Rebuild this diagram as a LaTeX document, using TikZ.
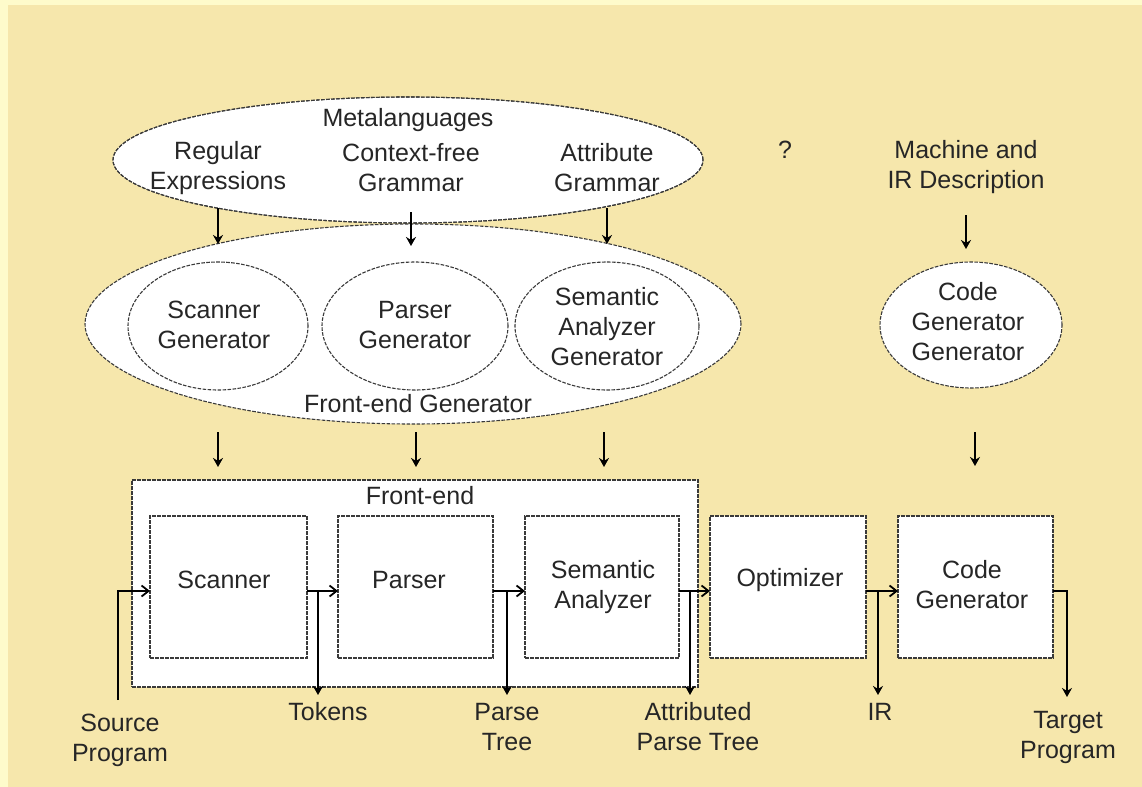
\documentclass[tikz,border=0pt]{standalone}
\usepackage{fontspec}
\setmainfont{Liberation Sans}
\usetikzlibrary{arrows.meta,shapes.geometric}
\definecolor{bgpale}{HTML}{FEFBCB}
\definecolor{bgfill}{HTML}{F6E7AC}
\definecolor{edgecol}{HTML}{3A3A3A}
\begin{document}
\begin{tikzpicture}[x=0.5pt,y=-0.5pt,
  shapeline/.style={draw=edgecol, line width=0.55pt, dash pattern=on 1.8pt off 0.7pt, fill=white, inner sep=0pt, outer sep=0pt},
  ell/.style={shapeline, ellipse},
  box/.style={shapeline, rectangle},
  txt/.style={align=center, inner sep=0pt, font=\fontsize{12.5}{15}\selectfont, text=black!85},
  flow/.style={draw=black, line width=1.1pt, -{Straight Barb[length=3.5pt,width=5.5pt,line width=0.9pt]}},
  downarr/.style={draw=black, line width=0.9pt, -{Stealth[length=4.5pt,width=5pt]}},
]
\fill[bgpale] (0,0) rectangle (1142,787);
\fill[bgfill] (8,5) rectangle (1142,787);
\useasboundingbox (0,0) rectangle (1142,787);

% ---- Metalanguages and Front-end Generator ellipses
\node[ell, minimum width=295pt, minimum height=63pt] (meta) at (408,160) {};
\node[ell, minimum width=328pt, minimum height=100pt] (feg) at (413,324) {};
\draw[draw=edgecol, line width=0.55pt, dash pattern=on 1.8pt off 0.7pt] (meta.center) ellipse [x radius=147.5pt, y radius=31.5pt];

\node[txt] (metat) at (408,120) {Metalanguages};
\node[txt] (regex) at (218,168) {Regular\\Expressions};
\node[txt] (cfg) at (411,168) {Context-free\\Grammar};
\node[txt] (ag) at (607,168) {Attribute\\Grammar};

\node[ell, minimum width=90pt, minimum height=64pt] (sg) at (218,326) {};
\node[ell, minimum width=93pt, minimum height=64pt] (pg) at (415,326) {};
\node[ell, minimum width=92pt, minimum height=64pt] (sag) at (607,326) {};
\node[txt] at (214,325) (sgt) {Scanner\\Generator};
\node[txt] at (415,325) (pgt) {Parser\\Generator};
\node[txt] at (607,327) (sagt) {Semantic\\Analyzer\\Generator};
\node[txt] (fegt) at (418,404) {Front-end Generator};

% arrows meta -> generators
\coordinate (m1) at (218,208); \coordinate (g1) at (218,244);
\coordinate (m2) at (411,212); \coordinate (g2) at (411,246);
\coordinate (m3) at (607,208); \coordinate (g3) at (607,244);
\draw[downarr] (m1) -- (g1);
\draw[downarr] (m2) -- (g2);
\draw[downarr] (m3) -- (g3);

% arrows generators -> front-end
\coordinate (f1) at (218,432); \coordinate (h1) at (218,467);
\coordinate (f2) at (416,432); \coordinate (h2) at (416,467);
\coordinate (f3) at (604,432); \coordinate (h3) at (604,467);
\draw[downarr] (f1) -- (h1);
\draw[downarr] (f2) -- (h2);
\draw[downarr] (f3) -- (h3);

% ---- right top
\node[txt] (qm) at (785,150) {?};
\node[txt] (mach) at (966,167) {Machine and\\IR Description};
\node[ell, minimum width=91pt, minimum height=63pt] (cgg) at (971,325) {};
\node[txt] (cggt) at (968,322) {Code\\Generator\\Generator};
\coordinate (c1) at (966,215); \coordinate (c2) at (966,249);
\draw[downarr] (c1) -- (c2);
\coordinate (c3) at (975,432); \coordinate (c4) at (975,466);
\draw[downarr] (c3) -- (c4);

% ---- Front-end box and stages
\node[box, minimum width=283pt, minimum height=103.5pt] (fe) at (415,583.5) {};
\node[txt] (fet) at (420,496) {Front-end};
\node[box, minimum width=78.5pt, minimum height=71pt] (scan) at (228.5,587) {};
\node[box, minimum width=77.5pt, minimum height=71pt] (pars) at (415.5,587) {};
\node[box, minimum width=77pt, minimum height=71pt] (sem) at (602,587) {};
\node[box, minimum width=78pt, minimum height=71pt] (opt) at (788,587) {};
\node[box, minimum width=77.5pt, minimum height=71pt] (cgen) at (975.5,587) {};
\node[txt] (scant) at (224,580) {Scanner};
\node[txt] (parst) at (409,580) {Parser};
\node[txt] (semt) at (603,587) {Semantic\\Analyzer};
\node[txt] (optt) at (790,580) {Optimizer};
\node[txt] (cgent) at (972,585) {Code\\Generator};

% main flow
\coordinate (srcb) at (118,700);
\draw[flow] (srcb) |- ([yshift=-2pt]scan.west);
\draw[flow] ([yshift=-2pt]scan.east) -- ([yshift=-2pt]pars.west);
\draw[flow] ([yshift=-2pt]pars.east) -- ([yshift=-2pt]sem.west);
\draw[flow] ([yshift=-2pt]sem.east) -- ([yshift=-2pt]opt.west);
\draw[flow] ([yshift=-2pt]opt.east) -- ([yshift=-2pt]cgen.east -| cgen.west);

% branches
\coordinate (tk) at (318,591); \coordinate (tkb) at (318,695);
\coordinate (pt) at (507,591); \coordinate (ptb) at (507,695);
\coordinate (at) at (690,591); \coordinate (atb) at (690,695);
\coordinate (ir) at (878,591); \coordinate (irb) at (878,695);
\coordinate (tg) at (1067,697);
\draw[downarr, line width=1.1pt] (tk) -- (tkb);
\draw[downarr, line width=1.1pt] (pt) -- (ptb);
\draw[downarr, line width=1.1pt] (at) -- (atb);
\draw[downarr, line width=1.1pt] (ir) -- (irb);
\draw[downarr, line width=1.1pt] ([yshift=-2pt]cgen.east) -| (tg);

% labels
\node[txt] (srct) at (120,740) {Source\\Program};
\node[txt] (tokt) at (328,712) {Tokens};
\node[txt] (ptt) at (507,727) {Parse\\Tree};
\node[txt] (att) at (698,727) {Attributed\\Parse Tree};
\node[txt] (irt) at (880,712) {IR};
\node[txt] (tgt) at (1068,737) {Target\\Program};
\end{tikzpicture}
\end{document}
